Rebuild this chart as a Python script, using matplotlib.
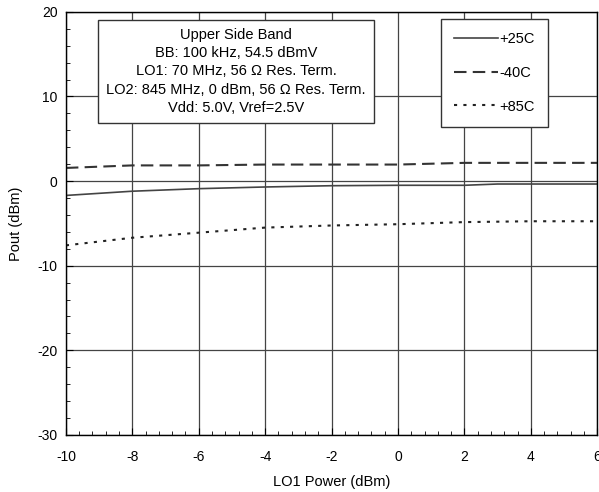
import matplotlib
matplotlib.use("Agg")
import matplotlib.pyplot as plt
from matplotlib.ticker import MultipleLocator

plt.rcParams['font.family'] = ['Liberation Sans', 'DejaVu Sans']
plt.rcParams['axes.unicode_minus'] = False

# LO1 power (dBm) and output power (dBm) per temperature
lo1_power = [-10, -8, -6, -4, -2, 0, 2, 3, 4, 6]
pout_25c = [-1.7, -1.2, -0.9, -0.7, -0.55, -0.5, -0.5, -0.35, -0.35, -0.35]
pout_m40c = [1.55, 1.85, 1.85, 1.95, 1.95, 1.95, 2.15, 2.15, 2.15, 2.15]
pout_85c = [-7.6, -6.7, -6.1, -5.5, -5.25, -5.1, -4.85, -4.8, -4.75, -4.75]

info_lines = ["Upper Side Band",
              "BB: 100 kHz, 54.5 dBmV",
              "LO1: 70 MHz, 56 \u03a9 Res. Term.",
              "LO2: 845 MHz, 0 dBm, 56 \u03a9 Res. Term.",
              "Vdd: 5.0V, Vref=2.5V"]

fig = plt.figure(figsize=(5.99, 4.92), dpi=100)
ax = fig.add_axes([0.110, 0.116, 0.887, 0.860])

ax.plot(lo1_power, pout_25c, color='#444444', lw=1.2, ls='-', label='+25C')
ax.plot(lo1_power, pout_m40c, color='#333333', lw=1.5, ls=(0, (6, 3)), label='-40C')
ax.plot(lo1_power, pout_85c, color='#222222', lw=1.5, ls=(0, (1.5, 3)), label='+85C')

ax.set_xlim(-10, 6)
ax.set_ylim(-30, 20)
ax.xaxis.set_major_locator(MultipleLocator(2))
ax.xaxis.set_minor_locator(MultipleLocator(0.4))
ax.yaxis.set_major_locator(MultipleLocator(10))
ax.yaxis.set_minor_locator(MultipleLocator(2))
ax.tick_params(which='both', direction='in', top=False, right=False, labelsize=10)
ax.tick_params(which='major', length=5)
ax.tick_params(which='minor', length=3)
ax.tick_params(axis='x', pad=11)
ax.tick_params(axis='y', pad=6)
ax.grid(which='major', color='#444444', lw=0.9)
for s in ax.spines.values():
    s.set_linewidth(1.0)

ax.set_xlabel('LO1 Power (dBm)', fontsize=10.5, labelpad=8)
ax.set_ylabel('Pout (dBm)', fontsize=10.5, labelpad=10)

ax.text(0.32, 0.859, "\n".join(info_lines), transform=ax.transAxes,
        ha='center', va='center', fontsize=10.5, linespacing=1.38,
        bbox=dict(boxstyle='square,pad=0.55', fc='white', ec='#333333', lw=1.0),
        zorder=5)

leg = ax.legend(loc='upper left', bbox_to_anchor=(0.706, 0.983), fontsize=10.5,
                handlelength=3.0, handletextpad=0.1, labelspacing=1.35,
                borderpad=0.9, borderaxespad=0, fancybox=False, framealpha=1,
                edgecolor='#333333')
leg.get_frame().set_linewidth(1.0)

fig.savefig('out.png', dpi=100)
